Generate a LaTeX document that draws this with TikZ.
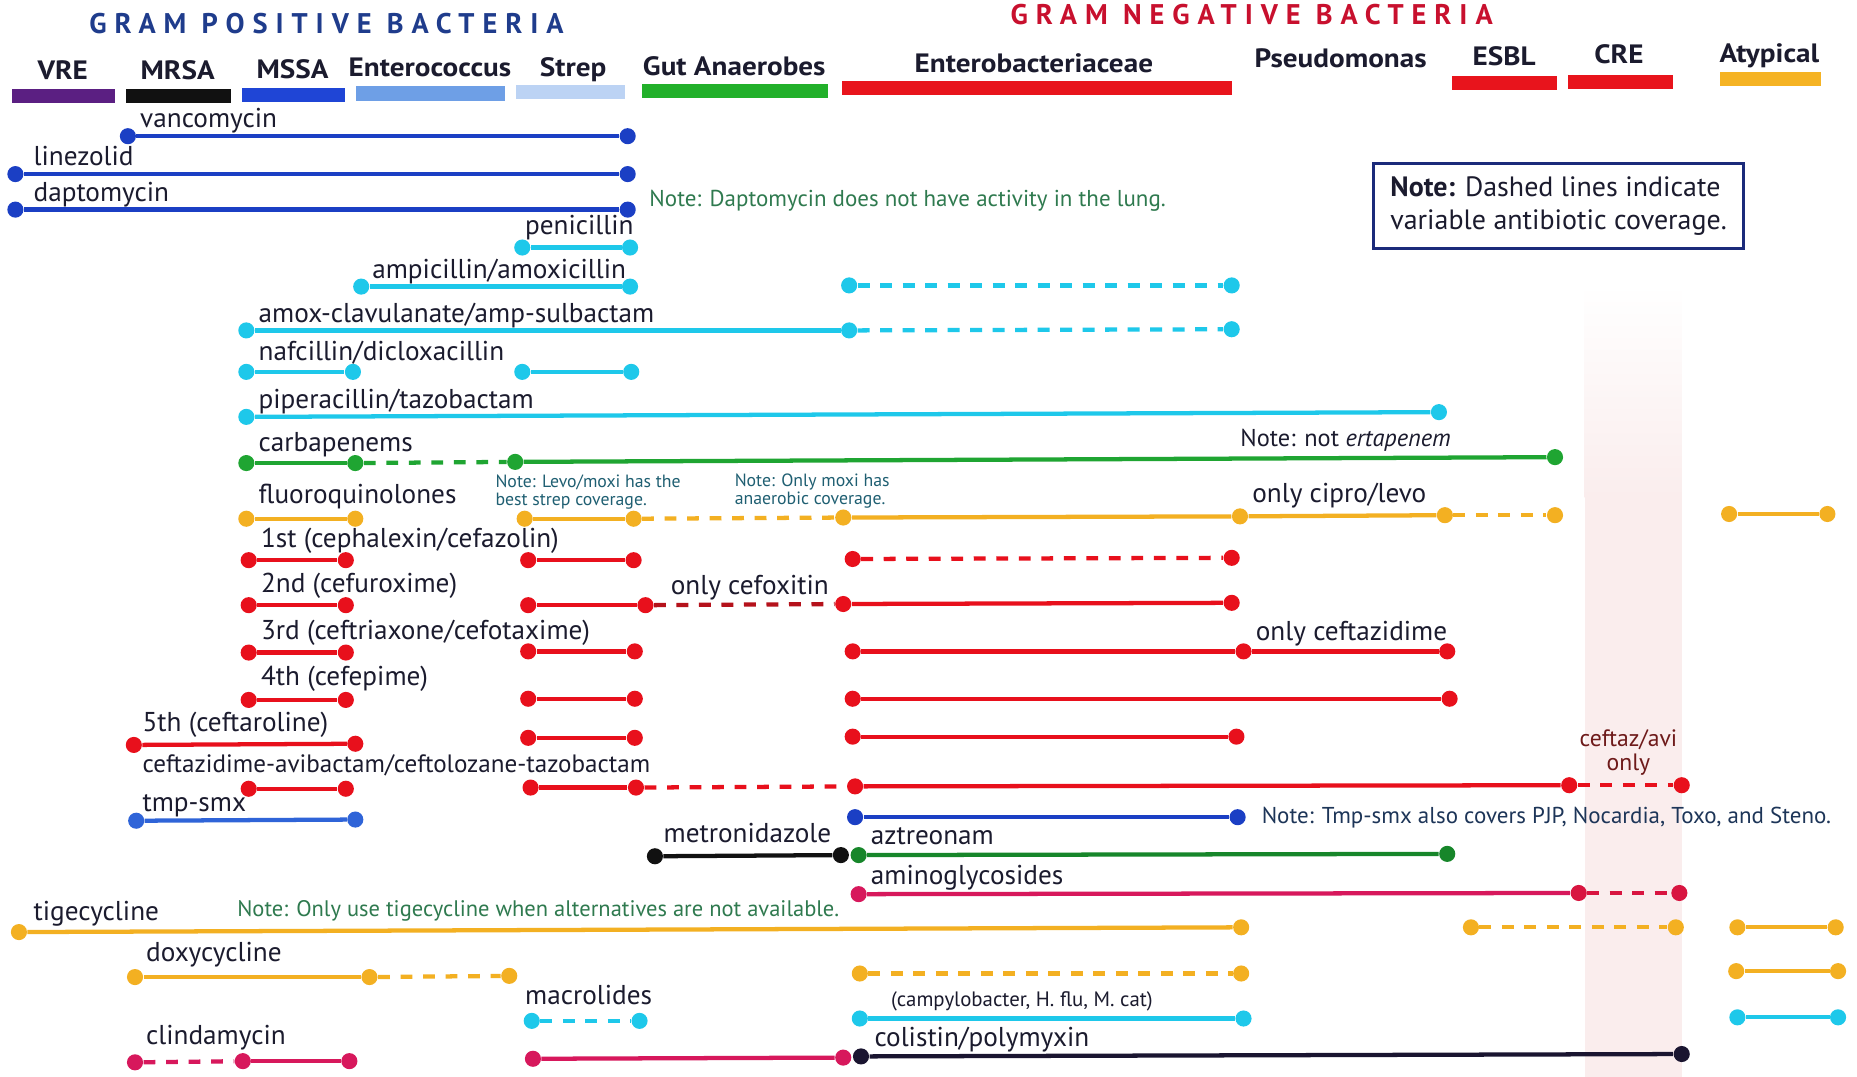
\documentclass[tikz,border=0pt]{standalone}
\usepackage{fontspec}
\setmainfont{PT Sans}
\newfontfamily\titlefont[LetterSpace=28]{PT Sans}
\newfontfamily\hdrfont[FakeStretch=1.1]{PT Sans}
\definecolor{gpos}{HTML}{1F3C8C}
\definecolor{gneg}{HTML}{C8102E}
\definecolor{txt}{HTML}{1B1B2E}
\definecolor{vblue}{HTML}{1B3FC4}
\definecolor{tblue}{HTML}{2F64D8}
\definecolor{cyanc}{HTML}{1EC8EA}
\definecolor{grn}{HTML}{1FA532}
\definecolor{dgrn}{HTML}{17862A}
\definecolor{orng}{HTML}{F3B022}
\definecolor{redc}{HTML}{E8101C}
\definecolor{dred}{HTML}{B5121B}
\definecolor{magc}{HTML}{D7185C}
\definecolor{crim}{HTML}{D81540}
\definecolor{blk}{HTML}{111111}
\definecolor{colc}{HTML}{1A1530}
\definecolor{barvre}{HTML}{5B1F82}
\definecolor{barmssa}{HTML}{1F45D6}
\definecolor{barent}{HTML}{6E9FE6}
\definecolor{barstr}{HTML}{BCD3F4}
\definecolor{bargut}{HTML}{22B02A}
\definecolor{barred}{HTML}{E8141C}
\definecolor{baratyp}{HTML}{F5B324}
\definecolor{band}{HTML}{FAEDED}
\definecolor{notegrn}{HTML}{2F7A4F}
\definecolor{noteteal}{HTML}{1F5F72}
\definecolor{notenavy}{HTML}{1D3558}
\definecolor{ceftazc}{HTML}{6E1A1A}
\definecolor{boxc}{HTML}{1B2A7A}
\newcommand\pdot[4]{\node[dot=#4] (#1) at (#2,#3) {};}
\begin{document}
\begin{tikzpicture}[x=0.5pt,y=-0.5pt,
  dot/.style={circle,inner sep=0pt,minimum size=6.8pt,fill=#1,draw=none},
  ln/.style={line width=1.8pt,draw=#1},
  dl/.style={line width=1.8pt,draw=#1,dash pattern=on 5pt off 4.5pt},
  lbl/.style={inner sep=0pt,anchor=base west,text=txt,font=\fontsize{11.5}{13}\selectfont},
  hdr/.style={inner sep=0pt,anchor=base,text=txt,font=\hdrfont\fontsize{11.2}{13}\selectfont\bfseries},
  ttl/.style={inner sep=0pt,anchor=base west,font=\titlefont\fontsize{12}{14}\selectfont\bfseries},
  note/.style={inner sep=0pt,anchor=base west,font=\fontsize{9.7}{11}\selectfont},
  snote/.style={inner sep=0pt,anchor=base west,align=left,text=noteteal,font=\fontsize{7.5}{7.5}\selectfont}]
\useasboundingbox (0,0) rectangle (1568,909);
\fill[white] (0,0) rectangle (1568,909);
% pink band
\shade[top color=white,bottom color=band] (1338,240) rectangle (1420,420);
\fill[band] (1338,419) rectangle (1420,909);
% titles
\node[ttl,text=gpos] (tpos) at (75,28) {GRAM POSITIVE BACTERIA};
\node[ttl,text=gneg] (tneg) at (853,21) {GRAM NEGATIVE BACTERIA};
% headers
\node[hdr] (hvre) at (53,67) {VRE};
\node[hdr] (hmrsa) at (150,67) {MRSA};
\node[hdr] (hmssa) at (247,66) {MSSA};
\node[hdr] (hent) at (363,65) {Enterococcus};
\node[hdr] (hstr) at (484,65) {Strep};
\node[hdr] (hgut) at (620,64) {Gut Anaerobes};
\node[hdr] (hebc) at (873,61) {Enterobacteriaceae};
\node[hdr] (hpsa) at (1132,57) {Pseudomonas};
\node[hdr] (hesbl) at (1270,55) {ESBL};
\node[hdr] (hcre) at (1367,54) {CRE};
\node[hdr] (hatyp) at (1494,53) {Atypical};
\fill[barvre] (10,75) rectangle (97,87);
\fill[blk] (106,75) rectangle (195,87);
\fill[barmssa] (204,74) rectangle (291,86);
\fill[barent] (301,73) rectangle (426,85);
\fill[barstr] (436,72) rectangle (528,84);
\fill[bargut] (542,71) rectangle (699,83);
\fill[barred] (711,68) rectangle (1040,80);
\fill[barred] (1226,64) rectangle (1315,76);
\fill[barred] (1324,63) rectangle (1413,75);
\fill[baratyp] (1452,61) rectangle (1538,73);
% note box
\node[draw=boxc,line width=1.3pt,align=left,minimum width=156pt,minimum height=36pt,inner sep=4pt,text=txt,font=\fontsize{11.8}{14}\selectfont] (notebox) at (1316,174) {\textbf{Note:} Dashed lines indicate\\variable antibiotic coverage.};
% ---- rows ----
% vancomycin
\pdot{v1}{108}{115}{vblue}\pdot{v2}{530}{115}{vblue}
\draw[ln=vblue] (v1) -- (v2);
\node[lbl] (lv) at (118,108) {vancomycin};
% linezolid
\pdot{lz1}{13}{147}{vblue}\pdot{lz2}{530}{147}{vblue}
\draw[ln=vblue] (lz1) -- (lz2);
\node[lbl] (llz) at (28,140) {linezolid};
% daptomycin
\pdot{dp1}{13}{177}{vblue}\pdot{dp2}{530}{177}{vblue}
\draw[ln=vblue] (dp1) -- (dp2);
\node[lbl] (ldp) at (28,170) {daptomycin};
\node[note,text=notegrn] (ndp) at (548,174) {Note: Daptomycin does not have activity in the lung.};
% penicillin
\pdot{pn1}{441}{209}{cyanc}\pdot{pn2}{532}{209}{cyanc}
\draw[ln=cyanc] (pn1) -- (pn2);
\node[lbl] (lpn) at (443,198) {penicillin};
% ampicillin
\pdot{am1}{305}{242}{cyanc}\pdot{am2}{532}{242}{cyanc}
\pdot{am3}{717}{241}{cyanc}\pdot{am4}{1040}{241}{cyanc}
\draw[ln=cyanc] (am1) -- (am2);
\draw[dl=cyanc] (am3) -- (am4);
\node[lbl] (lam) at (314,235) {ampicillin/amoxicillin};
% amox-clav
\pdot{ac1}{208}{279}{cyanc}\pdot{ac2}{717}{279}{cyanc}\pdot{ac3}{1040}{278}{cyanc}
\draw[ln=cyanc] (ac1) -- (ac2);
\draw[dl=cyanc] (ac2) -- (ac3);
\node[lbl] (lac) at (218,272) {amox-clavulanate/amp-sulbactam};
% nafcillin
\pdot{nf1}{208}{314}{cyanc}\pdot{nf2}{298}{314}{cyanc}
\pdot{nf3}{441}{314}{cyanc}\pdot{nf4}{533}{314}{cyanc}
\draw[ln=cyanc] (nf1) -- (nf2);
\draw[ln=cyanc] (nf3) -- (nf4);
\node[lbl] (lnf) at (218,304) {nafcillin/dicloxacillin};
% pip-tazo
\pdot{pt1}{208}{352}{cyanc}\pdot{pt2}{1215}{348}{cyanc}
\draw[ln=cyanc] (pt1) -- (pt2);
\node[lbl] (lpt) at (218,345) {piperacillin/tazobactam};
% carbapenems
\pdot{cb1}{208}{391}{grn}\pdot{cb2}{300}{391}{grn}\pdot{cb3}{435}{390}{grn}\pdot{cb4}{1313}{386}{grn}
\draw[ln=grn] (cb1) -- (cb2);
\draw[dl=grn] (cb2) -- (cb3);
\draw[ln=grn] (cb3) -- (cb4);
\node[lbl] (lcb) at (218,381) {carbapenems};
\node[note,text=txt,font=\fontsize{10.3}{11}\selectfont] (ncb) at (1047,377) {Note: not \textit{ertapenem}};
% fluoroquinolones
\pdot{fq1}{208}{438}{orng}\pdot{fq2}{300}{438}{orng}
\pdot{fq3}{443}{438}{orng}\pdot{fq4}{535}{438}{orng}
\pdot{fq5}{712}{437}{orng}\pdot{fq6}{1047}{436}{orng}
\pdot{fq7}{1220}{435}{orng}\pdot{fq8}{1313}{435}{orng}
\pdot{fq9}{1460}{434}{orng}\pdot{fq10}{1543}{434}{orng}
\draw[ln=orng] (fq1) -- (fq2);
\draw[ln=orng] (fq3) -- (fq4);
\draw[dl=orng] (fq4) -- (fq5);
\draw[ln=orng] (fq5) -- (fq6);
\draw[ln=orng] (fq6) -- (fq7);
\draw[dl=orng] (fq7) -- (fq8);
\draw[ln=orng] (fq9) -- (fq10);
\node[lbl] (lfq) at (218,425) {fluoroquinolones};
\node[lbl] (lfq2) at (1057,424) {only cipro/levo};
\node[snote] (nlevo) at (418,427) {Note: Levo/moxi has the\\best strep coverage.};
\node[snote] (nmoxi) at (620,426) {Note: Only moxi has\\anaerobic coverage.};
% 1st
\pdot{ca1}{210}{473}{redc}\pdot{ca2}{292}{473}{redc}
\pdot{ca3}{446}{473}{redc}\pdot{ca4}{535}{473}{redc}
\pdot{ca5}{720}{472}{redc}\pdot{ca6}{1040}{471}{redc}
\draw[ln=redc] (ca1) -- (ca2);
\draw[ln=redc] (ca3) -- (ca4);
\draw[dl=redc] (ca5) -- (ca6);
\node[lbl] (lca) at (220,462) {1st (cephalexin/cefazolin)};
% 2nd
\pdot{cc1}{210}{511}{redc}\pdot{cc2}{292}{511}{redc}
\pdot{cc3}{446}{511}{redc}\pdot{cc4}{545}{511}{redc}
\pdot{cc5}{712}{510}{redc}\pdot{cc6}{1040}{509}{redc}
\draw[ln=redc] (cc1) -- (cc2);
\draw[ln=redc] (cc3) -- (cc4);
\draw[dl=dred] (cc4) -- (cc5);
\draw[ln=redc] (cc5) -- (cc6);
\node[lbl] (lcc) at (220,500) {2nd (cefuroxime)};
\node[lbl] (lcc2) at (566,502) {only cefoxitin};
% 3rd
\pdot{cd1}{210}{551}{redc}\pdot{cd2}{292}{551}{redc}
\pdot{cd3}{446}{550}{redc}\pdot{cd4}{536}{550}{redc}
\pdot{cd5}{720}{550}{redc}\pdot{cd6}{1050}{550}{redc}\pdot{cd7}{1222}{550}{redc}
\draw[ln=redc] (cd1) -- (cd2);
\draw[ln=redc] (cd3) -- (cd4);
\draw[ln=redc] (cd5) -- (cd6);
\draw[ln=redc] (cd6) -- (cd7);
\node[lbl] (lcd) at (220,540) {3rd (ceftriaxone/cefotaxime)};
\node[lbl] (lcd2) at (1060,541) {only ceftazidime};
% 4th
\pdot{ce1}{210}{591}{redc}\pdot{ce2}{292}{591}{redc}
\pdot{ce3}{446}{590}{redc}\pdot{ce4}{536}{590}{redc}
\pdot{ce5}{720}{590}{redc}\pdot{ce6}{1224}{590}{redc}
\draw[ln=redc] (ce1) -- (ce2);
\draw[ln=redc] (ce3) -- (ce4);
\draw[ln=redc] (ce5) -- (ce6);
\node[lbl] (lce) at (220,579) {4th (cefepime)};
% 5th
\pdot{cf1}{113}{629}{redc}\pdot{cf2}{300}{628}{redc}
\pdot{cf3}{446}{623}{redc}\pdot{cf4}{536}{623}{redc}
\pdot{cf5}{720}{622}{redc}\pdot{cf6}{1044}{622}{redc}
\draw[ln=redc] (cf1) -- (cf2);
\draw[ln=redc] (cf3) -- (cf4);
\draw[ln=redc] (cf5) -- (cf6);
\node[lbl] (lcf) at (120,618) {5th (ceftaroline)};
% ceftazidime-avibactam
\pdot{cg1}{210}{666}{redc}\pdot{cg2}{292}{666}{redc}
\pdot{cg3}{448}{665}{redc}\pdot{cg4}{537}{665}{redc}
\pdot{cg5}{722}{664}{redc}\pdot{cg6}{1325}{663}{redc}\pdot{cg7}{1420}{663}{redc}
\draw[ln=redc] (cg1) -- (cg2);
\draw[ln=redc] (cg3) -- (cg4);
\draw[dl=redc] (cg4) -- (cg5);
\draw[ln=redc] (cg5) -- (cg6);
\draw[dl=redc] (cg6) -- (cg7);
\node[lbl,font=\fontsize{10.6}{12}\selectfont] (lcg) at (120,652) {ceftazidime-avibactam/ceftolozane-tazobactam};
\node[inner sep=0pt,anchor=base,align=center,text=ceftazc,font=\fontsize{10}{10.5}\selectfont] (lcg2) at (1375,651) {ceftaz/avi\\only};
% tmp-smx
\pdot{ts1}{115}{693}{tblue}\pdot{ts2}{300}{692}{tblue}
\pdot{ts3}{722}{690}{vblue}\pdot{ts4}{1045}{690}{vblue}
\draw[ln=tblue] (ts1) -- (ts2);
\draw[ln=vblue] (ts3) -- (ts4);
\node[lbl] (lts) at (120,685) {tmp-smx};
\node[note,text=notenavy] (nts) at (1065,695) {Note: Tmp-smx also covers PJP, Nocardia, Toxo, and Steno.};
% metronidazole
\pdot{mt1}{553}{723}{blk}\pdot{mt2}{710}{722}{blk}
\draw[ln=blk] (mt1) -- (mt2);
\node[lbl] (lmt) at (560,711) {metronidazole};
% aztreonam
\pdot{az1}{725}{722}{dgrn}\pdot{az2}{1222}{721}{dgrn}
\draw[ln=dgrn] (az1) -- (az2);
\node[lbl] (laz) at (735,713) {aztreonam};
% aminoglycosides
\pdot{ag1}{725}{755}{magc}\pdot{ag2}{1333}{754}{crim}\pdot{ag3}{1418}{754}{crim}
\draw[ln=magc] (ag1) -- (ag2);
\draw[dl=crim] (ag2) -- (ag3);
\node[lbl] (lag) at (735,747) {aminoglycosides};
% tigecycline
\pdot{tg1}{16}{787}{orng}\pdot{tg2}{1048}{783}{orng}
\pdot{tg3}{1242}{783}{orng}\pdot{tg4}{1415}{783}{orng}
\pdot{tg5}{1467}{783}{orng}\pdot{tg6}{1550}{783}{orng}
\draw[ln=orng] (tg1) -- (tg2);
\draw[dl=orng] (tg3) -- (tg4);
\draw[ln=orng] (tg5) -- (tg6);
\node[lbl] (ltg) at (28,777) {tigecycline};
\node[note,text=notegrn,font=\fontsize{9.5}{11}\selectfont] (ntg) at (200,774) {Note: Only use tigecycline when alternatives are not available.};
% doxycycline
\pdot{dx1}{114}{825}{orng}\pdot{dx2}{312}{825}{orng}\pdot{dx3}{430}{824}{orng}
\pdot{dx4}{726}{822}{orng}\pdot{dx5}{1048}{822}{orng}
\pdot{dx6}{1466}{820}{orng}\pdot{dx7}{1552}{820}{orng}
\draw[ln=orng] (dx1) -- (dx2);
\draw[dl=orng] (dx2) -- (dx3);
\draw[dl=orng] (dx4) -- (dx5);
\draw[ln=orng] (dx6) -- (dx7);
\node[lbl] (ldx) at (123,812) {doxycycline};
% macrolides
\pdot{mc1}{449}{862}{cyanc}\pdot{mc2}{540}{862}{cyanc}
\pdot{mc3}{726}{860}{cyanc}\pdot{mc4}{1050}{860}{cyanc}
\pdot{mc5}{1467}{859}{cyanc}\pdot{mc6}{1552}{859}{cyanc}
\draw[dl=cyanc] (mc1) -- (mc2);
\draw[ln=cyanc] (mc3) -- (mc4);
\draw[ln=cyanc] (mc5) -- (mc6);
\node[lbl] (lmc) at (443,848) {macrolides};
\node[note,text=txt,font=\fontsize{8.8}{10}\selectfont] (nmc) at (752,850) {(campylobacter, H. flu, M. cat)};
% clindamycin
\pdot{cl1}{114}{897}{magc}\pdot{cl2}{205}{896}{magc}\pdot{cl3}{295}{896}{magc}
\pdot{cl4}{450}{894}{magc}\pdot{cl5}{712}{893}{magc}
\draw[dl=magc] (cl1) -- (cl2);
\draw[ln=magc] (cl2) -- (cl3);
\draw[ln=magc] (cl4) -- (cl5);
\node[lbl] (lcl) at (123,882) {clindamycin};
% colistin
\pdot{co1}{727}{892}{colc}\pdot{co2}{1420}{890}{colc}
\draw[ln=colc] (co1) -- (co2);
\node[lbl] (lco) at (738,884) {colistin/polymyxin};
\end{tikzpicture}
\end{document}
